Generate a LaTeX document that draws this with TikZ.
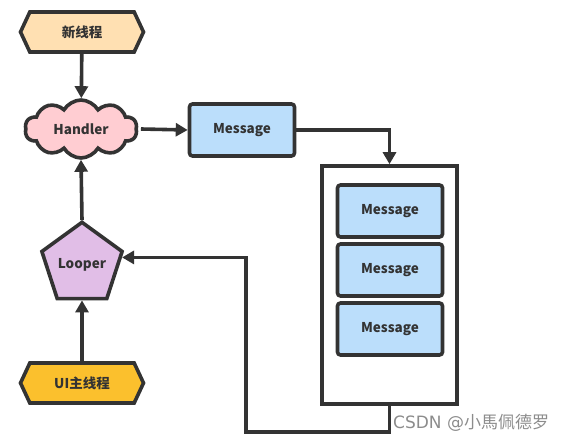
\documentclass[tikz,border=0pt]{standalone}
\usepackage{fontspec}
\setmainfont{Noto Sans CJK SC}
\newfontfamily\wmfont{DejaVu Sans}
\usetikzlibrary{shapes.geometric,shapes.symbols,arrows.meta}
\definecolor{ln}{HTML}{333333}
\definecolor{peach}{HTML}{FFE0B2}
\definecolor{pinkc}{HTML}{FFCDD2}
\definecolor{bluec}{HTML}{BBDEFB}
\definecolor{purplec}{HTML}{E1BEE7}
\definecolor{orangec}{HTML}{FBC02D}
\tikzset{
  base/.style={draw=ln, line width=3.6pt, text=ln, font=\bfseries\fontsize{13.5}{15}\selectfont},
  hexa/.style={base, signal, signal to=west and east, signal pointer angle=130,
     minimum width=123pt, minimum height=40pt, inner sep=0pt},
  msgbox/.style={base, rectangle, rounded corners=3pt, fill=bluec,
     minimum width=105pt, minimum height=52pt},
  conn/.style={draw=ln, line width=3.6pt, -{Triangle[length=12pt,width=13pt]}},
  plain/.style={draw=ln, line width=3.6pt}
}
\begin{document}
\begin{tikzpicture}[x=1pt,y=-1pt]
\useasboundingbox (0,0) rectangle (577,443);
\node[hexa, fill=peach] (newt) at (82,32) {新线程};
\node[base, cloud, cloud puffs=10, cloud puff arc=120, cloud ignores aspect,
      fill=pinkc, minimum width=112pt, minimum height=58pt, inner sep=0pt] (handler) at (81,129) {Handler};
\node[msgbox] (msg) at (242,130) {Message};
\node[plain, rectangle, fill=white, minimum width=135pt, minimum height=238pt] (queue) at (389.5,285) {};
\node[msgbox] (m1) at (390,211) {Message};
\node[msgbox] (m2) at (390,270) {Message};
\node[msgbox] (m3) at (390,329) {Message};
\node[base, regular polygon, regular polygon sides=5, fill=purplec,
      minimum size=79pt, inner sep=0pt] (looper) at (82,264.5) {\raisebox{-2pt}{Looper}};
\node[hexa, fill=orangec] (ui) at (82,383) {UI主线程};
\coordinate (c1) at (246,432);
\draw[conn] (newt) -- (handler);
\draw[conn] (handler.east) ++(3,0) -- (msg.west);
\draw[conn] (msg.east) -| (queue.north);
\draw[conn] (queue.south) |- (c1) |- (looper.10);
\draw[conn] (looper.north) -- (handler.south);
\draw[conn] (ui.north) -- (looper.south);
\node[text=black!45, font=\fontsize{17}{19}\selectfont, anchor=west, inner sep=0pt] (wm) at (393,423) {{\wmfont CSDN @}小馬佩德罗};
\end{tikzpicture}
\end{document}
